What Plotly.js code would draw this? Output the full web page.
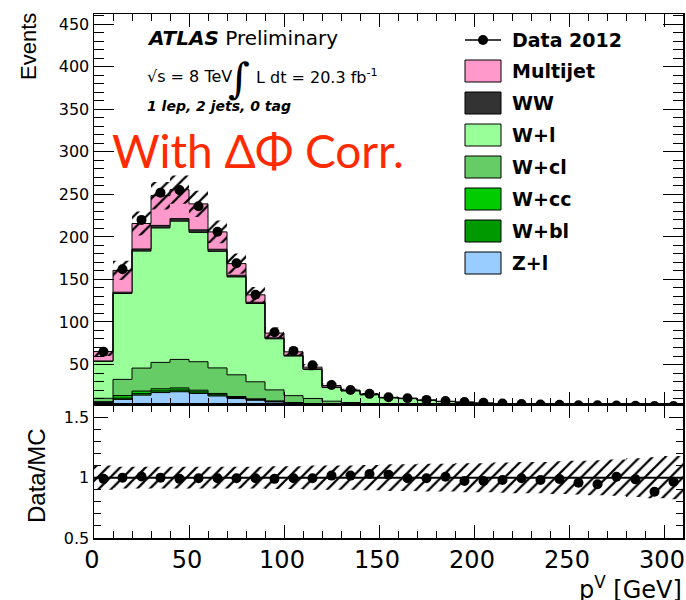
<!DOCTYPE html>
<html>
<head>
<meta charset="utf-8">
<script src="https://cdn.plot.ly/plotly-3.0.1.min.js"></script>
<style>html,body{margin:0;padding:0;background:#fff;}#chart{width:686px;height:600px;}</style>
</head>
<body>
<div id="chart"></div>
<script>
// ---------------- data ----------------
const binLow = [0,10,20,30,40,50,60,70,80,90,100,110,120,130,140,150,160,170,180,190,200,210,220,230,240,250,260,270,280,290,300];
const binWidth = 10;

const dataCounts = [65, 162, 220, 252, 255, 236, 206, 169, 132, 88, 66, 49, 26, 20, 15.5, 11.6, 10.4, 8.4, 7, 6, 5, 4.2, 3.6, 3, 2.6, 2.2, 2, 1.7, 1.5, 1.3, 1.1];

const zl    = [5, 9, 14, 17, 18, 16, 13, 10, 8, 6, 4.5, 3.5, 2.5, 2, 1.5, 1.2, 1, 0.8, 0.6, 0.5, 0.4, 0.3, 0.3, 0.2, 0.2, 0.2, 0.1, 0.1, 0.1, 0.1, 0.1];
const wbl   = [0.5, 1.5, 1.8, 2, 2, 1.8, 1.5, 1.2, 0.8, 0.6, 0.4, 0.3, 0.2, 0.2, 0.1, 0.1, 0.1, 0.1, 0.05, 0.05, 0.05, 0.05, 0.03, 0.03, 0.03, 0.02, 0.02, 0.02, 0.02, 0.01, 0.01];
const wcc   = [0.8, 3, 3, 2.5, 2.5, 2, 1.5, 1.2, 0.9, 0.6, 0.5, 0.3, 0.2, 0.2, 0.1, 0.1, 0.1, 0.08, 0.06, 0.05, 0.04, 0.03, 0.03, 0.02, 0.02, 0.02, 0.02, 0.01, 0.01, 0.01, 0.01];
const wcl   = [4, 19, 27, 31, 33.5, 33.5, 30, 25.5, 20, 13, 8, 6, 4, 3, 2.2, 1.6, 1.2, 0.9, 0.7, 0.5, 0.4, 0.3, 0.25, 0.2, 0.15, 0.12, 0.1, 0.08, 0.07, 0.06, 0.05];
const wl    = [43.4, 101, 137.5, 158, 162.5, 152, 137, 115, 92, 60, 46.5, 34, 16, 13.5, 10.5, 7.8, 7.5, 5.9, 5, 4.4, 3.6, 3, 2.6, 2.2, 1.9, 1.6, 1.5, 1.3, 1.1, 1.0, 0.8];
const ww    = [0.5, 1.5, 2.5, 3, 3, 3, 2.5, 2, 1.5, 1.2, 1, 0.8, 0.6, 0.5, 0.4, 0.3, 0.3, 0.2, 0.2, 0.15, 0.1, 0.1, 0.1, 0.08, 0.07, 0.06, 0.05, 0.05, 0.04, 0.04, 0.03];
const multijet = [11, 25.6, 30, 35, 34, 30.5, 20.4, 13.7, 8.7, 5.5, 4, 2, 1.8, 0.5, 0.4, 0.3, 0.2, 0.2, 0.15, 0.1, 0.1, 0.1, 0.08, 0.06, 0.05, 0.05, 0.04, 0.04, 0.03, 0.03, 0.02];

// relative MC uncertainty (hatched band, upper panel)
const mcRelErr = [0.08, 0.07, 0.065, 0.065, 0.065, 0.065, 0.065, 0.07, 0.07, 0.075, 0.075, 0.08, 0.085, 0.085, 0.09, 0.09, 0.095, 0.1, 0.1, 0.1, 0.105, 0.105, 0.11, 0.11, 0.115, 0.12, 0.12, 0.125, 0.13, 0.14, 0.15];
// half-width of hatched band in the ratio panel
const ratioBand = [0.1, 0.09, 0.09, 0.09, 0.09, 0.09, 0.09, 0.09, 0.09, 0.095, 0.095, 0.1, 0.1, 0.1, 0.105, 0.11, 0.11, 0.115, 0.115, 0.12, 0.12, 0.125, 0.13, 0.13, 0.135, 0.14, 0.145, 0.15, 0.16, 0.17, 0.18];

// Data / MC ratio points
const ratioVals = [0.99, 1.0, 1.01, 1.0, 0.99, 0.995, 0.995, 0.995, 0.995, 0.99, 0.995, 0.995, 1.017, 1.017, 1.03, 1.025, 0.995, 0.995, 1.008, 0.972, 0.972, 0.981, 0.995, 0.981, 0.989, 0.958, 0.945, 1.008, 0.986, 0.883, 0.966];

const sampleNames  = ["Z+l", "W+bl", "W+cc", "W+cl", "W+l", "WW", "Multijet"];
const sampleValues = [zl, wbl, wcc, wcl, wl, ww, multijet];
const sampleColors = ["#99ccff", "#009900", "#00cc00", "#66cc66", "#99ff99", "#333333", "#ff99cc"];
const legendOrder  = ["Multijet", "WW", "W+l", "W+cl", "W+cc", "W+bl", "Z+l"];

// ---------------- helpers ----------------
const edges = binLow.concat([binLow[binLow.length-1] + binWidth]);
const centers = binLow.map(v => v + binWidth/2);
const step = arr => arr.concat([arr[arr.length-1]]);

const traces = [];
let cum = binLow.map(() => 0);
sampleValues.forEach((vals, i) => {
  cum = cum.map((c, k) => c + vals[k]);
  traces.push({
    type: 'scatter', mode: 'lines', x: edges, y: step(cum),
    xaxis: 'x', yaxis: 'y',
    line: {shape: 'hv', color: 'black', width: 1},
    fill: i === 0 ? 'tozeroy' : 'tonexty', fillcolor: sampleColors[i],
    hoverinfo: 'skip', showlegend: false, name: sampleNames[i]
  });
});
const total = cum;

const hatch = {shape: '/', fgcolor: 'black', bgcolor: 'rgba(0,0,0,0)', size: 9, solidity: 0.25};
// top band
traces.push({type:'scatter', mode:'lines', x: edges, y: step(total.map((t,k)=>t*(1-mcRelErr[k]))),
  xaxis:'x', yaxis:'y', line:{shape:'hv', width:0}, hoverinfo:'skip', showlegend:false});
traces.push({type:'scatter', mode:'lines', x: edges, y: step(total.map((t,k)=>t*(1+mcRelErr[k]))),
  xaxis:'x', yaxis:'y', line:{shape:'hv', width:0}, fill:'tonexty', fillcolor:'rgba(0,0,0,0)',
  fillpattern: hatch, hoverinfo:'skip', showlegend:false});
// data
traces.push({type:'scatter', mode:'markers', x: centers, y: dataCounts, xaxis:'x', yaxis:'y',
  marker:{color:'black', size:10}, hoverinfo:'skip', showlegend:false, name:'Data 2012'});

// ratio band
traces.push({type:'scatter', mode:'lines', x: edges, y: step(ratioBand.map(e=>1-e)),
  xaxis:'x2', yaxis:'y2', line:{shape:'hv', width:0}, hoverinfo:'skip', showlegend:false});
traces.push({type:'scatter', mode:'lines', x: edges, y: step(ratioBand.map(e=>1+e)),
  xaxis:'x2', yaxis:'y2', line:{shape:'hv', width:0}, fill:'tonexty', fillcolor:'rgba(0,0,0,0)',
  fillpattern: hatch, hoverinfo:'skip', showlegend:false});
traces.push({type:'scatter', mode:'markers', x: centers, y: ratioVals, xaxis:'x2', yaxis:'y2',
  marker:{color:'black', size:10}, hoverinfo:'skip', showlegend:false});

// ---------------- layout ----------------
const L = 94, R = 683, T = 14, B = 538;
const PX = p => (p - L) / (R - L);
const PY = p => (B - p) / (B - T);
const split = PY(404.5);

const FONT = 'DejaVu Sans, sans-serif';
const axBase = {showline:true, linecolor:'black', linewidth:1.5, mirror:'allticks', ticks:'inside',
  tickcolor:'black', tickwidth:1, showgrid:false, zeroline:false, fixedrange:true};

const layout = {
  width: 686, height: 600,
  margin: {l: L, r: 686 - R, t: T, b: 600 - B, pad: 0},
  paper_bgcolor: 'white', plot_bgcolor: 'white',
  showlegend: false,
  font: {family: FONT, color: 'black'},
  xaxis: Object.assign({}, axBase, {domain:[0,1], anchor:'y', range:[0,310], dtick:50, tick0:0, ticklen:13,
    showticklabels:false, minor:{dtick:10, ticklen:7, ticks:'inside', tickcolor:'black'}}),
  yaxis: Object.assign({}, axBase, {domain:[split,1], anchor:'x', range:[3,462], tickvals:[50,100,150,200,250,300,350,400,450],
    ticklen:20, tickfont:{size:16, family:FONT}, minor:{dtick:10, tick0:0, ticklen:10, ticks:'inside', tickcolor:'black'}}),
  xaxis2: Object.assign({}, axBase, {domain:[0,1], anchor:'y2', matches:'x', range:[0,310], dtick:50, tick0:0, ticklen:13,
    tickfont:{size:24, family:FONT}, ticklabeloverflow:'allow', ticklabelshift:-2,
    minor:{dtick:10, ticklen:7, ticks:'inside', tickcolor:'black'}}),
  yaxis2: Object.assign({}, axBase, {domain:[0,split], anchor:'x2', range:[0.5,1.606], tickvals:[0.5,1,1.5], ticktext:['0.5','1','1.5'],
    ticklen:14, tickfont:{size:16, family:FONT}, minor:{dtick:0.1, tick0:0.5, ticklen:7, ticks:'inside', tickcolor:'black'}}),
  shapes: [
    {type:'line', xref:'paper', x0:0, x1:1, yref:'y2', y0:1, y1:1, line:{color:'black', width:2}}
  ],
  annotations: []
};

const ann = (text, px, py, opts) => Object.assign({text:text, xref:'paper', yref:'paper', x:PX(px), y:PY(py),
  showarrow:false, xanchor:'left', yanchor:'middle', font:{family:FONT, size:16, color:'black'}}, opts || {});

layout.annotations.push(ann('Events', 29, 47, {textangle:-90, xanchor:'center', font:{family:'Liberation Sans, Arial', size:22}}));
layout.annotations.push(ann('Data/MC', 36, 476, {textangle:-90, xanchor:'center', font:{family:'Liberation Sans, Arial', size:24}}));
layout.annotations.push(ann('p<sup>V</sup> [GeV]', 684, 588, {xanchor:'right', font:{family:FONT, size:24}}));
layout.annotations.push(ann('<b><i>ATLAS</i></b> Preliminary', 145, 38, {font:{family:FONT, size:20}}));
layout.annotations.push(ann('√s = 8 TeV', 145, 76, {font:{family:FONT, size:16}}));
layout.annotations.push(ann('∫', 239, 79, {xanchor:'center', font:{family:'DejaVu Serif, serif', size:42}}));
layout.annotations.push(ann('L dt = 20.3 fb<sup>-1</sup>', 254, 76, {font:{family:FONT, size:16}}));
layout.annotations.push(ann('<b><i>1 lep, 2 jets, 0 tag</i></b>', 145, 106, {font:{family:FONT, size:14}}));
layout.annotations.push(ann('With ΔΦ Corr.', 110, 150, {font:{family:'Lato, sans-serif', size:46, color:'#ff2a00'}}));

// legend
const rowY = [40, 71, 103, 135, 167, 199, 231, 263];
const boxX0 = 465, boxX1 = 501, textX = 510;
layout.shapes.push({type:'line', xref:'paper', yref:'paper', x0:PX(boxX0), x1:PX(boxX1), y0:PY(rowY[0]), y1:PY(rowY[0]), line:{color:'black', width:1.5}});
layout.shapes.push({type:'circle', xref:'paper', yref:'paper', x0:PX(483-5), x1:PX(483+5), y0:PY(rowY[0]+5), y1:PY(rowY[0]-5), fillcolor:'black', line:{color:'black', width:0}});
layout.annotations.push(ann('<b>Data 2012</b>', textX, rowY[0], {font:{family:FONT, size:19}}));
legendOrder.forEach((nm, i) => {
  const idx = sampleNames.indexOf(nm);
  const cy = rowY[i+1];
  layout.shapes.push({type:'rect', xref:'paper', yref:'paper', x0:PX(boxX0), x1:PX(boxX1), y0:PY(cy+11), y1:PY(cy-11),
    fillcolor: sampleColors[idx], line:{color:'black', width:1}});
  layout.annotations.push(ann('<b>' + nm + '</b>', textX, cy, {font:{family:FONT, size:19}}));
});

Plotly.newPlot('chart', traces, layout, {displayModeBar:false, staticPlot:true});
</script>
</body>
</html>
